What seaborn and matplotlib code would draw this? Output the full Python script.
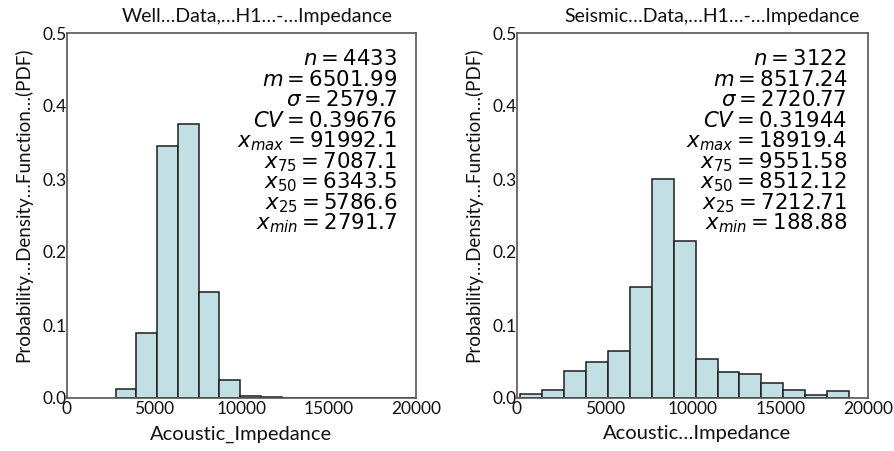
import numpy as np
import pandas as pd
import matplotlib
matplotlib.use("Agg")
import matplotlib.pyplot as plt
import seaborn as sns

sns.set_style("white")
plt.rcParams['font.family'] = ['Lato', 'DejaVu Sans']
plt.rcParams['mathtext.fontset'] = 'dejavusans'

# ---------------- data ----------------
well_title = "Well…Data,…H1…-…Impedance"
seis_title = "Seismic…Data,…H1…-…Impedance"
well_xlabel = "Acoustic_Impedance"
seis_xlabel = "Acoustic…Impedance"
ylabel = "Probability…Density…Function…(PDF)"

well_min, well_max, well_nbins = 2791.7, 91992.1, 75
well_heights = [0.0123, 0.0895, 0.3456, 0.375, 0.145, 0.024, 0.0027,
                0.0007, 0.0004, 0.0003, 0.0002, 0.0002, 0.0001, 0.0001, 0.0001] + [0.0] * 60

seis_min, seis_max, seis_nbins = 188.88, 18919.4, 15
seis_heights = [0.0055, 0.011, 0.037, 0.049, 0.064, 0.1525, 0.300, 0.2146,
                0.053, 0.036, 0.0325, 0.021, 0.011, 0.0037, 0.0096]

well_stats = [r"$n = 4433$", r"$m = 6501.99$", r"$\sigma = 2579.7$", r"$CV = 0.39676$",
              r"$x_{max} = 91992.1$", r"$x_{75} = 7087.1$", r"$x_{50} = 6343.5$",
              r"$x_{25} = 5786.6$", r"$x_{min} = 2791.7$"]
seis_stats = [r"$n = 3122$", r"$m = 8517.24$", r"$\sigma = 2720.77$", r"$CV = 0.31944$",
              r"$x_{max} = 18919.4$", r"$x_{75} = 9551.58$", r"$x_{50} = 8512.12$",
              r"$x_{25} = 7212.71$", r"$x_{min} = 188.88$"]

xticks = [0, 5000, 10000, 15000, 20000]
yticks = [0.0, 0.1, 0.2, 0.3, 0.4, 0.5]

# ---------------- figure ----------------
W, H = 895, 451
fig = plt.figure(figsize=(W / 100, H / 100), dpi=100)
ax1 = fig.add_axes([67 / W, (H - 398) / H, 349 / W, 365 / H])
ax2 = fig.add_axes([517 / W, (H - 398) / H, 351 / W, 365 / H])

face = '#c2e0e3'
edge = '#1e1e1e'


def draw(ax, lo, hi, nb, heights, title, xlabel, stats, title_x, stat_x, xlab_x):
    width = (hi - lo) / nb
    centers = [lo + width * (i + 0.5) for i in range(nb)]
    df = pd.DataFrame({"x": centers, "w": heights})
    sns.histplot(data=df, x="x", weights="w", bins=nb, binrange=(lo, hi), stat="count",
                 color=face, alpha=1, edgecolor=edge, linewidth=1.1, ax=ax)
    ax.set_xlim(0, 20000)
    ax.set_ylim(0, 0.5)
    ax.set_xticks(xticks)
    ax.set_xticklabels([str(t) for t in xticks])
    ax.set_yticks(yticks)
    ax.set_yticklabels([f"{t:.1f}" for t in yticks])
    ax.tick_params(axis='both', length=0, labelsize=12.5, colors='#111111')
    ax.tick_params(axis='y', pad=0)
    ax.tick_params(axis='x', pad=2)
    for s in ax.spines.values():
        s.set_color('#555555')
        s.set_linewidth(1.2)
        s.set_visible(True)
    ax.set_title(title, fontsize=14, x=title_x, pad=8, color='#111111')
    ax.set_xlabel(xlabel, fontsize=14.5, color='#111111')
    ax.set_ylabel(ylabel, fontsize=13.5, color='#111111')
    ax.yaxis.set_label_coords(-0.10, 0.53)
    ax.xaxis.set_label_coords(xlab_x, -0.075)
    for i, s in enumerate(stats):
        yb = 65 + 20.6 * i
        ax.text(stat_x, (398 - yb) / 365, s, transform=ax.transAxes,
                ha='right', va='baseline', fontsize=15.3, color='black')


draw(ax1, well_min, well_max, well_nbins, well_heights, well_title, well_xlabel,
     well_stats, 0.546, 0.9456, 0.5)
draw(ax2, seis_min, seis_max, seis_nbins, seis_heights, seis_title, seis_xlabel,
     seis_stats, 0.556, 0.940, 0.512)

fig.savefig("out.png", dpi=100)
